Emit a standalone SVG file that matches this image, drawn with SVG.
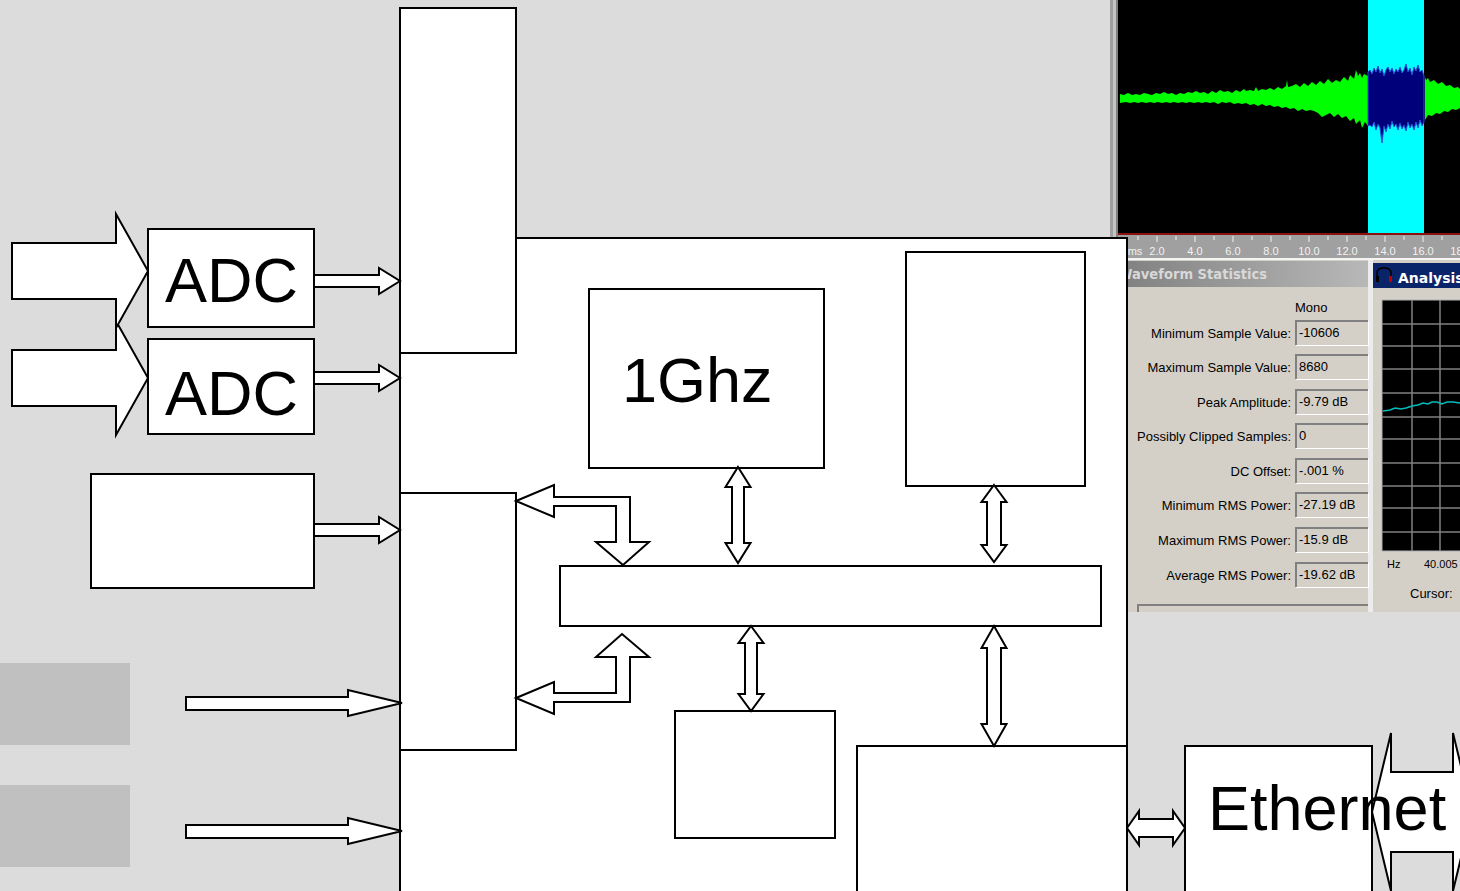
<svg xmlns="http://www.w3.org/2000/svg" width="1460" height="891" viewBox="0 0 1460 891">
<style>
.box{fill:#fff;stroke:#000;stroke-width:2}
.arr{fill:#fff;stroke:#000;stroke-width:2;stroke-linejoin:miter}
.big{font-family:"Liberation Sans",Arial,sans-serif;fill:#000}
.ui{font-family:"Liberation Sans",Arial,sans-serif;font-size:13px;fill:#000}
.lbl{font-family:"Liberation Sans",Arial,sans-serif;font-size:13px;fill:#000;text-anchor:end}
.rul{font-family:"Liberation Sans",Arial,sans-serif;font-size:11px;fill:#f2f2f2;text-anchor:middle}
.fld{fill:#d4d0c8}
.fdk{fill:none;stroke:#808080;stroke-width:2}
.flt{fill:none;stroke:#ffffff;stroke-width:1}
.grid{stroke:#808080;stroke-width:1.5}
</style>
<defs>
<linearGradient id="tb" x1="0" y1="0" x2="1" y2="0">
<stop offset="0" stop-color="#808080"/>
<stop offset="1" stop-color="#b8b8b8"/>
</linearGradient>
</defs>
<rect x="0" y="0" width="1460" height="891" fill="#dcdcdc"/>
<g id="gray-blocks">
<rect x="0" y="663" width="130" height="82" fill="#c0c0c0"/>
<rect x="0" y="785" width="130" height="82" fill="#c0c0c0"/>
</g>
<g id="screenshot">
<rect x="1110" y="0" width="3" height="238" fill="#a0a0a0"/>
<rect x="1113" y="0" width="3" height="238" fill="#c4c4c4"/>
<rect x="1116" y="0" width="2" height="238" fill="#808080"/>
<rect x="1118" y="0" width="342" height="234" fill="#000"/>
<rect x="1368" y="0" width="56" height="234" fill="#00ffff"/>
<path fill="#00ff00" d="M1120,94 L1124,95 1128,93 1132,95 1136,94 1140,95 1144,93 1148,94 1152,95 1156,93 1160,94 1164,92 1168,94 1172,93 1176,95 1180,93 1184,94 1188,92 1192,93 1196,91 1200,93 1204,92 1208,94 1212,91 1216,93 1220,90 1224,92 1228,91 1232,93 1236,90 1240,92 1244,89 1246,91 1250,90 1254,91 1256,87 1258,91 1262,89 1266,90 1270,88 1274,90 1278,87 1282,89 1286,86 1287,80 1288,87 1292,86 1296,84 1300,87 1304,83 1308,86 1312,82 1316,85 1320,81 1324,84 1328,79 1332,83 1336,80 1340,82 1344,77 1348,81 1350,75 1354,79 1356,70 1358,76 1360,73 1362,78 1364,74 1368,76 L1368,126 1365,122 1362,128 1360,120 1356,124 1354,118 1350,121 1346,116 1342,118 1338,114 1334,117 1330,113 1326,115 1322,117 1318,113 1314,111 1310,110 1306,111 1302,109 1298,111 1294,108 1290,109 1286,107 1282,108 1278,106 1274,107 1270,105 1266,106 1262,104 1258,106 1254,104 1250,105 1246,103 1242,104 1238,103 1234,104 1230,102 1226,103 1222,102 1218,104 1214,102 1210,103 1206,102 1202,103 1198,102 1194,103 1190,102 1186,103 1182,102 1178,103 1174,102 1170,103 1166,102 1162,103 1158,102 1154,103 1150,102 1146,103 1142,102 1138,103 1134,102 1130,103 1126,102 1120,103 Z"/>
<path fill="#00007a" stroke="#2050d8" stroke-width="1" d="M1368,72 L1370,70 1372,74 1374,68 1376,72 1378,66 1380,73 1382,69 1384,76 1386,70 1388,67 1390,72 1392,68 1394,74 1396,69 1398,72 1400,67 1402,73 1404,70 1406,64 1408,72 1410,68 1412,75 1414,67 1416,71 1418,65 1420,72 1422,70 1424,76 L1424,122 1422,126 1420,120 1418,128 1416,122 1414,130 1412,124 1410,128 1408,122 1406,131 1404,125 1402,129 1400,123 1398,130 1396,124 1394,127 1392,121 1390,129 1388,124 1386,132 1384,126 1382,143 1380,128 1378,124 1376,130 1374,122 1372,127 1370,125 1368,126 Z"/>
<path fill="#00ff00" d="M1425,77 L1426,80 1428,78 1430,82 1434,80 1438,84 1442,82 1446,86 1450,85 1454,88 1458,87 1460,89 L1460,108 1456,110 1452,109 1448,112 1444,111 1440,114 1436,113 1432,116 1428,115 1425,120 Z"/>
<rect x="1118" y="233" width="342" height="2" fill="#8b1010"/>
<rect x="1118" y="235" width="342" height="23" fill="#a0a0a0"/>
<g stroke="#f0f0f0" stroke-width="1">
<line x1="1138" y1="236" x2="1138" y2="240"/><line x1="1157" y1="236" x2="1157" y2="242"/><line x1="1176" y1="236" x2="1176" y2="240"/><line x1="1195" y1="236" x2="1195" y2="242"/><line x1="1214" y1="236" x2="1214" y2="240"/><line x1="1233" y1="236" x2="1233" y2="242"/><line x1="1252" y1="236" x2="1252" y2="240"/><line x1="1271" y1="236" x2="1271" y2="242"/><line x1="1290" y1="236" x2="1290" y2="240"/><line x1="1309" y1="236" x2="1309" y2="242"/><line x1="1328" y1="236" x2="1328" y2="240"/><line x1="1347" y1="236" x2="1347" y2="242"/><line x1="1366" y1="236" x2="1366" y2="240"/><line x1="1385" y1="236" x2="1385" y2="242"/><line x1="1404" y1="236" x2="1404" y2="240"/><line x1="1423" y1="236" x2="1423" y2="242"/><line x1="1442" y1="236" x2="1442" y2="240"/>
</g>
<text class="rul" x="1135" y="255">ms</text>
<text class="rul" x="1157" y="255">2.0</text>
<text class="rul" x="1195" y="255">4.0</text>
<text class="rul" x="1233" y="255">6.0</text>
<text class="rul" x="1271" y="255">8.0</text>
<text class="rul" x="1309" y="255">10.0</text>
<text class="rul" x="1347" y="255">12.0</text>
<text class="rul" x="1385" y="255">14.0</text>
<text class="rul" x="1423" y="255">16.0</text>
<text class="rul" x="1461" y="255">18.0</text>
<rect x="1118" y="258" width="342" height="2" fill="#f4f4f4"/>
<rect x="1118" y="260" width="250" height="352" fill="#d4d0c8"/>
<rect x="1118" y="261" width="250" height="26" fill="url(#tb)"/>
<text x="1118" y="279" textLength="149" lengthAdjust="spacingAndGlyphs" style="font-family:'DejaVu Sans','Liberation Sans',sans-serif;font-size:14px;font-weight:bold;fill:#d8d8d8">Waveform Statistics</text>
<rect x="1368" y="260" width="5" height="352" fill="#ececec"/>
<rect x="1373" y="260" width="87" height="352" fill="#d4d0c8"/>
<rect x="1373" y="263" width="87" height="25" fill="#0a246a"/>
<path d="M1377,280 v-7 q0,-5 7,-5 q7,0 7,5 v7" fill="none" stroke="#000" stroke-width="1.5"/>
<rect x="1376" y="276" width="3" height="6" fill="#000"/>
<rect x="1389" y="276" width="3" height="6" fill="#c00000"/>
<text x="1398" y="283" style="font-family:'DejaVu Sans','Liberation Sans',sans-serif;font-size:14px;font-weight:bold;fill:#fff">Analysis</text>
<text class="ui" x="1295" y="312">Mono</text>
<g id="fields">
<rect class="fld" x="1295" y="320" width="73" height="25"/><path class="fdk" d="M1296,345 V321 H1368"/><path class="flt" d="M1296,345.5 H1368.5 V321"/>
<rect class="fld" x="1295" y="354" width="73" height="25"/><path class="fdk" d="M1296,379 V355 H1368"/><path class="flt" d="M1296,379.5 H1368.5 V355"/>
<rect class="fld" x="1295" y="389" width="73" height="25"/><path class="fdk" d="M1296,414 V390 H1368"/><path class="flt" d="M1296,414.5 H1368.5 V390"/>
<rect class="fld" x="1295" y="423" width="73" height="25"/><path class="fdk" d="M1296,448 V424 H1368"/><path class="flt" d="M1296,448.5 H1368.5 V424"/>
<rect class="fld" x="1295" y="458" width="73" height="25"/><path class="fdk" d="M1296,483 V459 H1368"/><path class="flt" d="M1296,483.5 H1368.5 V459"/>
<rect class="fld" x="1295" y="492" width="73" height="25"/><path class="fdk" d="M1296,517 V493 H1368"/><path class="flt" d="M1296,517.5 H1368.5 V493"/>
<rect class="fld" x="1295" y="527" width="73" height="25"/><path class="fdk" d="M1296,552 V528 H1368"/><path class="flt" d="M1296,552.5 H1368.5 V528"/>
<rect class="fld" x="1295" y="562" width="73" height="25"/><path class="fdk" d="M1296,587 V563 H1368"/><path class="flt" d="M1296,587.5 H1368.5 V563"/>
</g>
<text class="lbl" x="1291" y="338">Minimum Sample Value:</text>
<text class="lbl" x="1291" y="372">Maximum Sample Value:</text>
<text class="lbl" x="1291" y="407">Peak Amplitude:</text>
<text class="lbl" x="1291" y="441">Possibly Clipped Samples:</text>
<text class="lbl" x="1291" y="476">DC Offset:</text>
<text class="lbl" x="1291" y="510">Minimum RMS Power:</text>
<text class="lbl" x="1291" y="545">Maximum RMS Power:</text>
<text class="lbl" x="1291" y="580">Average RMS Power:</text>
<text class="ui" x="1299" y="337">-10606</text>
<text class="ui" x="1299" y="371">8680</text>
<text class="ui" x="1299" y="406">-9.79 dB</text>
<text class="ui" x="1299" y="440">0</text>
<text class="ui" x="1299" y="475">-.001 %</text>
<text class="ui" x="1299" y="509">-27.19 dB</text>
<text class="ui" x="1299" y="544">-15.9 dB</text>
<text class="ui" x="1299" y="579">-19.62 dB</text>
<path d="M1138,612 V605 H1368" fill="none" stroke="#808080" stroke-width="2"/>
<rect x="1382" y="300" width="80" height="251" fill="#000" stroke="#b0b0b0" stroke-width="1"/>
<g class="grid">
<line x1="1412" y1="300" x2="1412" y2="551"/><line x1="1440" y1="300" x2="1440" y2="551"/>
<line x1="1382" y1="324" x2="1460" y2="324"/><line x1="1382" y1="346" x2="1460" y2="346"/><line x1="1382" y1="369" x2="1460" y2="369"/><line x1="1382" y1="393" x2="1460" y2="393"/><line x1="1382" y1="417" x2="1460" y2="417"/><line x1="1382" y1="439" x2="1460" y2="439"/><line x1="1382" y1="463" x2="1460" y2="463"/><line x1="1382" y1="486" x2="1460" y2="486"/><line x1="1382" y1="508" x2="1460" y2="508"/><line x1="1382" y1="532" x2="1460" y2="532"/>
</g>
<polyline points="1383,411 1390,410 1395,408 1401,409 1406,408 1412,406 1418,405 1423,403 1428,404 1432,402 1437,402 1442,404 1447,402 1453,402 1460,403" fill="none" stroke="#00bcbc" stroke-width="1.5"/>
<text x="1387" y="568" style="font-family:'Liberation Sans',Arial,sans-serif;font-size:11px;fill:#000">Hz</text>
<text x="1424" y="568" style="font-family:'Liberation Sans',Arial,sans-serif;font-size:11px;fill:#000">40.005</text>
<text class="ui" x="1410" y="598">Cursor:</text>
</g>
<g id="board"><rect class="box" x="400" y="238" width="727" height="670"/></g>
<g id="top-column"><rect class="box" x="400" y="8" width="116" height="345"/></g>
<g id="lower-column"><rect class="box" x="400" y="493" width="116" height="257"/></g>
<g id="adc1"><rect class="box" x="148" y="229" width="166" height="98"/><text class="big" x="165" y="302" font-size="63">ADC</text></g>
<g id="adc2"><rect class="box" x="148" y="339" width="166" height="95"/><text class="big" x="165" y="415" font-size="63">ADC</text></g>
<g id="input-box"><rect class="box" x="91" y="474" width="223" height="114"/></g>
<g id="cpu"><rect class="box" x="589" y="289" width="235" height="179"/><text class="big" x="622" y="402" font-size="63">1Ghz</text></g>
<g id="right-box"><rect class="box" x="906" y="252" width="179" height="234"/></g>
<g id="bus"><rect class="box" x="560" y="566" width="541" height="60"/></g>
<g id="bottom-box"><rect class="box" x="675" y="711" width="160" height="127"/></g>
<g id="bottom-right-box"><rect class="box" x="857" y="746" width="270" height="160"/></g>
<g id="ethernet"><rect class="box" x="1185" y="746" width="187" height="160"/></g>
<g id="connectors">
<polygon class="arr" points="12,350 116,350 116,321 148,378 116,435 116,406 12,406"/>
<polygon class="arr" points="12,243 116,243 116,214 148,271 116,328 116,299 12,299"/>
<polygon class="arr" points="314,275 379,275 379,268 400,281 379,294 379,287 314,287"/>
<polygon class="arr" points="314,372 379,372 379,365 400,378 379,391 379,384 314,384"/>
<polygon class="arr" points="314,524 379,524 379,517 400,530 379,543 379,536 314,536"/>
<polygon class="arr" points="186,697 348,697 348,690 402,703 348,716 348,710 186,710"/>
<polygon class="arr" points="186,825 348,825 348,818 402,831 348,844 348,838 186,838"/>
<polygon class="arr" points="516,501 554,485 554,497 630,497 630,542 649,542 623,565 596,542 616,542 616,506 554,506 554,517"/>
<polygon class="arr" points="516,698 554,682 554,693 616,693 616,657 596,657 622,634 649,657 630,657 630,702 554,702 554,714"/>
<polygon class="arr" points="738,467 750.5,487 744,487 744,543 750.5,543 738,563 725.5,543 732,543 732,487 725.5,487"/>
<polygon class="arr" points="994,485 1006.5,502 1001,502 1001,545 1006.5,545 994,562 981.5,545 987,545 987,502 981.5,502"/>
<polygon class="arr" points="751,626 763.5,643 757,643 757,694 763.5,694 751,711 738.5,694 745,694 745,643 738.5,643"/>
<polygon class="arr" points="994,626 1006.5,648 1001,648 1001,724 1006.5,724 994,746 981.5,724 987,724 987,648 981.5,648"/>
<polygon class="arr" points="1127,828 1139,811 1139,819 1173,819 1173,811 1185,828 1173,845 1173,837 1139,837 1139,845"/>
<polygon class="arr" points="1372,812 1391,733 1391,772 1453,772 1453,733 1472,812 1453,891 1453,852 1391,852 1391,891"/>
</g>
<text class="big" x="1208" y="830" font-size="63">Ethernet</text>
</svg>
